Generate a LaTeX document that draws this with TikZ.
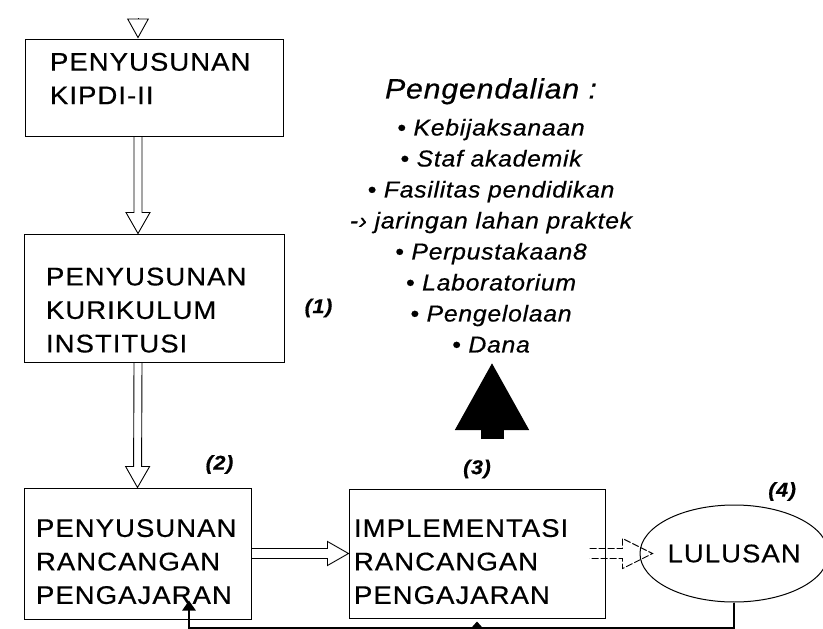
\documentclass[tikz,border=0pt]{standalone}
\usepackage{fontspec}
\setmainfont{Liberation Sans}
\newfontfamily\boxfont[LetterSpace=4, FakeStretch=1.08, FakeBold=0.5]{Liberation Sans}
\newfontfamily\listfont[LetterSpace=3, FakeStretch=1.08, FakeBold=0.5]{Liberation Sans}
\usetikzlibrary{positioning,calc,arrows.meta,shapes.geometric}

\tikzset{
  box/.style={draw, line width=1pt, align=left, inner ysep=0pt,
    font=\boxfont\fontsize{25.5}{33.5}\selectfont},
  textdown/.style={execute at begin node={\rule{0pt}{#1}}},
  textup/.style={execute at end node={\par\vspace{#1}}},
  numlabel/.style={inner sep=0pt, font=\listfont\itshape\bfseries\fontsize{20}{24}\selectfont},
  hollow/.style n args={3}{draw, line width=0.9pt, line join=miter,
    to path={let \p1=($(\tikztotarget)!#3!(\tikztostart)$) in
      ($(\tikztostart)!#1!90:(\tikztotarget)$) -- ($(\p1)!#1!90:(\tikztotarget)$)
      -- ($(\p1)!#2!90:(\tikztotarget)$) -- (\tikztotarget)
      -- ($(\p1)!#2!-90:(\tikztotarget)$) -- ($(\p1)!#1!-90:(\tikztotarget)$)
      -- ($(\tikztostart)!#1!-90:(\tikztotarget)$)}},
  feedback/.style={line width=2.5pt},
}

\begin{document}
\begin{tikzpicture}[x=1pt, y=-1pt]
  \useasboundingbox (0,0) rectangle (823,629);

  \node[box, textup=18pt, text width=208pt, inner xsep=25pt, minimum height=97pt] (kipdi) at (154,87.5)
    {PENYUSUNAN\\KIPDI-II};
  \node[box, textdown=42pt, text width=216pt, inner xsep=22pt, minimum height=128pt, below=97pt of kipdi] (kurikulum)
    {PENYUSUNAN\\KURIKULUM\\INSTITUSI};
  \node[box, textdown=34pt, text width=203pt, inner xsep=12pt, minimum height=131pt,
    below=125pt of kurikulum.south west, anchor=north west] (rancangan)
    {PENYUSUNAN\\RANCANGAN\\PENGAJARAN};
  \node[box, textdown=34pt, text width=246pt, inner xsep=5pt, minimum height=129pt, right=97pt of rancangan] (implementasi)
    {IMPLEMENTASI\\RANCANGAN\\PENGAJARAN};
  \node[ellipse, draw, line width=1pt, inner sep=0pt, minimum width=186pt, minimum height=97pt,
    font=\boxfont\fontsize{25.5}{30}\selectfont, right=34pt of implementasi] (lulusan) {LULUSAN};

  \node[anchor=north, inner sep=0pt, align=center, font=\listfont\itshape\fontsize{23}{31}\selectfont]
    (ctrl) at (491,78)
    {{\fontsize{28}{34}\selectfont Pengendalian :}\\[6pt]
     • Kebijaksanaan\\
     • Staf akademik\\
     • Fasilitas pendidikan\\
     -› jaringan lahan praktek\\
     • Perpustakaan8\\
     • Laboratorium\\
     • Pengelolaan\\
     • Dana};

  \node[numlabel] (n1) at ([xshift=34pt,yshift=-10pt]kurikulum.east) {(1)};
  \node[numlabel] (n2) at ([xshift=-32pt,yshift=23pt]rancangan.north east) {(2)};
  \node[numlabel, above=10pt of implementasi.north] (n3) {(3)};
  \node[numlabel] (n4) at ([xshift=48pt,yshift=13pt]lulusan.north) {(4)};

  \coordinate (topin) at (138,18);
  \coordinate (ctrlfoot) at (492,439);
  \coordinate (ctrltip) at (492,362);

  \draw[line width=0.9pt, -{Triangle[open, length=20pt, width=22pt]}] (topin) -- ([xshift=-16pt]kipdi.north);
  \path[hollow={4pt}{12pt}{21pt}] ([xshift=-16pt]kipdi.south) to ([xshift=-16pt]kurikulum.north);
  \path[hollow={4pt}{12pt}{21pt}] ([xshift=-16pt]kurikulum.south) to (rancangan.north);
  \path[hollow={5pt}{12pt}{21pt}] (rancangan.east) to (implementasi.west);
  \path[hollow={5pt}{15pt}{30pt}, dash pattern=on 7pt off 2pt] ([xshift=-16pt]implementasi.east) to ([xshift=13pt]lulusan.west);

  % kontrol
  \draw[line width=23pt, -{Triangle[length=68pt, width=69pt]}] (ctrlfoot) -- (ctrltip);

  % umpan balik
  \draw[feedback, -{Triangle[length=10pt, width=13pt]}] (lulusan.south)
    |- ([xshift=51.5pt,yshift=-9pt]rancangan.south) -- ([xshift=51.5pt,yshift=19pt]rancangan.south);
  \draw[feedback, -{Triangle[length=7pt, width=12pt]}] ([yshift=-11pt]implementasi.south)
    -- ([yshift=-3pt]implementasi.south);
\end{tikzpicture}
\end{document}
